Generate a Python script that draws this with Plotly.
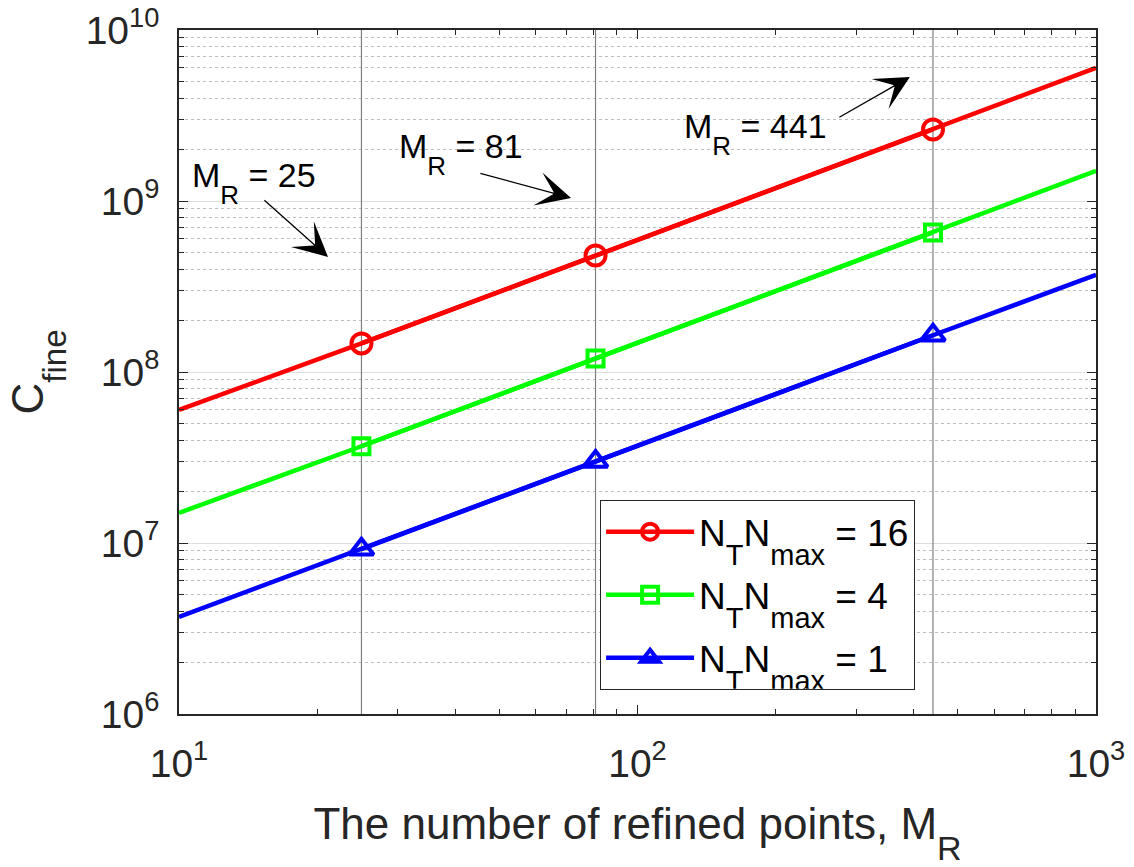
import plotly.graph_objects as go

# ---- data ----
mr_line = [10, 25, 81, 441, 1000]          # x for the full lines
mr_marks = [25, 81, 441]                   # x where markers are drawn
c_n16 = [6.0e7, 1.47e8, 4.8e8, 2.62e9, 6.0e9]
c_n4 = [1.5e7, 3.68e7, 1.2e8, 6.55e8, 1.5e9]
c_n1 = [3.7e6, 9.2e6, 3.0e7, 1.64e8, 3.7e8]


def sub(t, px, drop):
    return ("<sub><span style='font-size:%dpx;baseline-shift:-%dpx'>%s</span></sub>"
            % (px, drop, t))


series_names = ["N" + sub("T", 29, 11) + "N" + sub("max", 29, 11) + " = 16",
                "N" + sub("T", 29, 11) + "N" + sub("max", 29, 11) + " = 4",
                "N" + sub("T", 29, 11) + "N" + sub("max", 29, 11) + " = 1"]
x_tickvals = [10, 100, 1000]
x_ticktext = ["10<sup>1</sup>", "10<sup>2</sup>", "10<sup>3</sup>"]
y_tickvals = [1e6, 1e7, 1e8, 1e9, 1e10]
y_ticktext = ["10<sup>6</sup>", "10<sup>7</sup>", "10<sup>8</sup>",
              "10<sup>9</sup>", "10<sup>10</sup>"]
annot_labels = ["M" + sub("R", 26, 10) + " = 25", "M" + sub("R", 26, 10) + " = 81",
                "M" + sub("R", 26, 10) + " = 441"]
x_title = "The number of refined points, M" + sub("R", 34, 12)
y_title = "C" + sub("fine", 33, 13)

FONT = "Liberation Sans, Arial, sans-serif"
DARK = "#262626"

fig = go.Figure()

# vertical reference lines at the marked M_R values
for xv in mr_marks:
    fig.add_trace(go.Scatter(x=[xv, xv], y=[1e6, 1e10], mode="lines",
                             line=dict(color="#808080", width=1.2),
                             showlegend=False, hoverinfo="skip"))

styles = [
    dict(color="#ff0000", symbol="circle-open", size=20),
    dict(color="#00ff00", symbol="square-open", size=16),
    dict(color="#0000ff", symbol="triangle-up-open", size=21),
]
for i, (vals, name, st) in enumerate(zip([c_n16, c_n4, c_n1], series_names, styles)):
    fig.add_trace(go.Scatter(x=mr_line, y=vals, mode="lines",
                             line=dict(color=st["color"], width=4.5),
                             showlegend=False, hoverinfo="skip"))
    mvals = [v for x, v in zip(mr_line, vals) if x in mr_marks]
    fig.add_trace(go.Scatter(x=mr_marks, y=mvals, mode="lines+markers", name=name,
                             legendgroup="g%d" % i,
                             line=dict(color=st["color"], width=4.5),
                             marker=dict(symbol=st["symbol"], size=st["size"],
                                         color=st["color"],
                                         line=dict(color=st["color"], width=4))))

x_minor = [d * 10 ** k for k in (1, 2) for d in range(2, 10)]
y_minor = [d * 10 ** k for k in (6, 7, 8, 9) for d in range(2, 10)]

fig.update_xaxes(type="log", range=[1, 3], tickvals=x_tickvals, ticktext=x_ticktext,
                 showline=True, linecolor=DARK, linewidth=1.5, mirror="ticks",
                 ticks="inside", ticklen=9, tickwidth=1.2, tickcolor=DARK,
                 showgrid=False, zeroline=False, ticklabelstandoff=14,
                 automargin=False,
                 minor=dict(tickvals=x_minor, ticks="inside", ticklen=5,
                            tickwidth=1.2, tickcolor=DARK, showgrid=False),
                 tickfont=dict(family=FONT, size=39, color=DARK),
                 title=dict(text=x_title,
                            font=dict(family=FONT, size=44, color=DARK), standoff=26))
fig.update_yaxes(type="log", range=[6, 10], tickvals=y_tickvals, ticktext=y_ticktext,
                 showline=True, linecolor=DARK, linewidth=1.5, mirror="ticks",
                 ticks="inside", ticklen=9, tickwidth=1.2, tickcolor=DARK,
                 showgrid=True, gridcolor="#dedede", gridwidth=1, zeroline=False,
                 ticklabelstandoff=10, automargin=False,
                 minor=dict(tickvals=y_minor, ticks="inside", ticklen=5,
                            tickwidth=1.2, tickcolor=DARK, showgrid=True,
                            gridcolor="#bdbdbd", griddash="dot", gridwidth=1),
                 tickfont=dict(family=FONT, size=39, color=DARK),
                 title=dict(text=y_title,
                            font=dict(family=FONT, size=44, color=DARK), standoff=28))

# text labels (log10 coordinates on log axes)
text_pos = [(1.024, 9.105), (1.475, 9.275), (2.097, 9.39)]
for (tx, ty), lab in zip(text_pos, annot_labels):
    fig.add_annotation(x=tx, y=ty, xref="x", yref="y", text=lab, showarrow=False,
                       xanchor="left", yanchor="middle",
                       font=dict(family=FONT, size=34, color="black"))
# arrows: (tail, head) in log10 coordinates
arrows = [((1.183, 9.012), (1.325, 8.673)),
          ((1.654, 9.164), (1.855, 9.018)),
          ((2.437, 9.485), (2.594, 9.725))]
for (ax_, ay_), (hx, hy) in arrows:
    fig.add_annotation(x=hx, y=hy, ax=ax_, ay=ay_, xref="x", yref="y",
                       axref="x", ayref="y", text="", showarrow=True,
                       arrowhead=3, arrowsize=4.4, arrowwidth=1.3,
                       arrowcolor="black", standoff=0, startstandoff=0)

fig.update_layout(
    width=1134, height=867,
    margin=dict(l=179, r=38, t=30, b=153),
    paper_bgcolor="white", plot_bgcolor="white",
    font=dict(family=FONT, color=DARK),
    legend=dict(x=0.459, y=0.313, xanchor="left", yanchor="top",
                bgcolor="white", bordercolor=DARK, borderwidth=1.2,
                font=dict(family=FONT, size=37, color="black"),
                itemwidth=88, tracegroupgap=12),
)

fig.write_html("out.html")
